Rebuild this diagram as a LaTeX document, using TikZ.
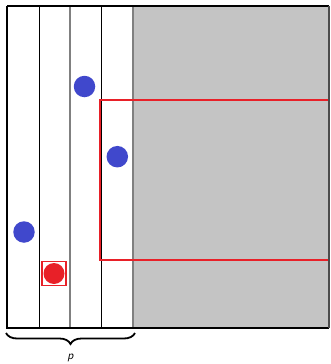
\documentclass[tikz,border=0pt]{standalone}
\usetikzlibrary{decorations.pathreplacing}
\definecolor{dotblue}{RGB}{64,72,204}
\definecolor{boxred}{RGB}{232,32,40}
\definecolor{regiongray}{RGB}{196,196,196}
\tikzset{
  dot/.style={circle,fill=dotblue,inner sep=0pt,minimum size=21.5pt},
  col/.style={line width=0.9pt},
  colgray/.style={line width=1.3pt,draw=gray},
  redbox/.style={draw=boxred,line width=2.2pt},
}
\begin{document}
\begin{tikzpicture}[x=1pt,y=-1pt]
\useasboundingbox (0,0) rectangle (330,364);
\fill[regiongray] (133,6) rectangle (329,328);
\draw[col] (39,6) -- (39,328);
\draw[colgray] (70,6) -- (70,328);
\draw[col] (101,6) -- (101,328);
\draw[colgray] (133,6) -- (133,328);
\draw[redbox] (100,100) rectangle (329,260);
\node[dot] (b1) at (84.5,86.5) {};
\node[dot] (b2) at (117.3,156.7) {};
\node[dot] (b3) at (24,232) {};
\node[draw=boxred,line width=1.6pt,fill=white,minimum size=24pt,inner sep=0pt] (rs) at (54,273.5) {};
\node[circle,fill=boxred,minimum size=21pt,inner sep=0pt] (rc) at (rs) {};
\draw[line width=2pt] (7,6) -- (329,6);
\draw[line width=2pt] (7,6) -- (7,328) -- (329,328);
\draw[line width=1.2pt,draw=black!70] (329,6) -- (329,328);
\coordinate (bl) at (6,333);
\coordinate (br) at (135,333);
\draw[line width=1.8pt,decorate,decoration={brace,mirror,amplitude=11pt}] (bl) -- (br);
\node[font=\sffamily\itshape\fontsize{12}{14}\selectfont] (p) at (70.5,358) {p};
\end{tikzpicture}
\end{document}
